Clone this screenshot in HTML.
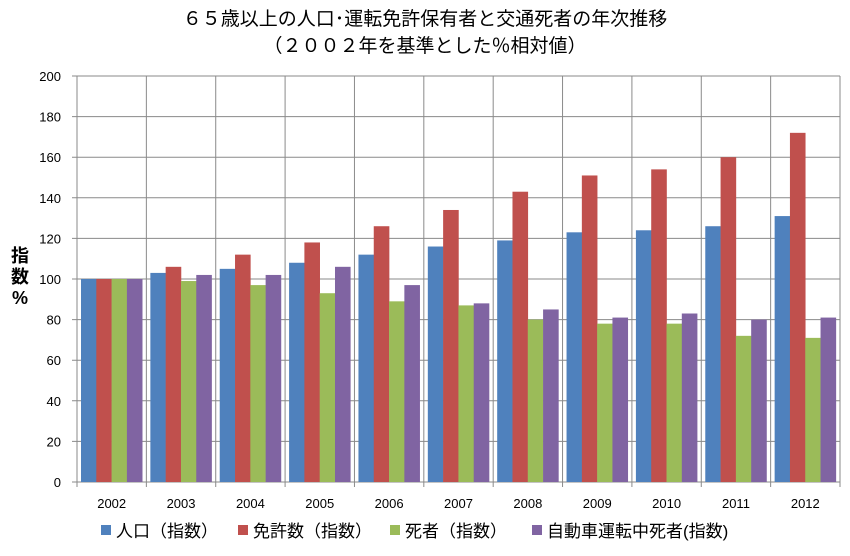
<!DOCTYPE html>
<html><head><meta charset="utf-8"><style>
body{margin:0;background:#fff;}
svg text{font-family:"Liberation Sans","Noto Sans CJK JP",sans-serif;fill:#000;}
</style></head><body>
<svg width="850" height="551" xmlns="http://www.w3.org/2000/svg">
<rect width="850" height="551" fill="#fff"/>
<text x="425" y="25" font-size="19" text-anchor="middle">６５歳以上の人口･運転免許保有者と交通死者の年次推移</text>
<text x="425" y="52" font-size="19" text-anchor="middle">（２００２年を基準とした％相対値）</text>
<g id="grid" stroke="#8a8a8a" stroke-width="1"></g>
<g id="bars"></g>
<g id="labels" font-size="13"></g>
<text x="20" y="262" font-size="18" font-weight="bold" text-anchor="middle">指</text>
<text x="20" y="283" font-size="18" font-weight="bold" text-anchor="middle">数</text>
<text x="20" y="304" font-size="18" font-weight="bold" text-anchor="middle">%</text>
<g font-size="17">
<rect x="101" y="525" width="10" height="10" fill="#4F81BD"/><text x="116" y="537">人口（指数）</text>
<rect x="238" y="525" width="10" height="10" fill="#C0504D"/><text x="253" y="537">免許数（指数）</text>
<rect x="390" y="525" width="10" height="10" fill="#9BBB59"/><text x="405" y="537">死者（指数）</text>
<rect x="532" y="525" width="10" height="10" fill="#8064A2"/><text x="547" y="537">自動車運転中死者(指数)</text>
</g>
</svg>
<script>
const L=77,R=840,T=76,B=482,n=11,cw=(R-L)/n,sc=(B-T)/200;
const d=[[100,100,100,100],[103,106,99,102],[105,112,97,102],[108,118,93,106],[112,126,89,97],[116,134,87,88],[119,143,80,85],[123,151,78,81],[124,154,78,83],[126,160,72,80],[131,172,71,81]];
const c=["#4F81BD","#C0504D","#9BBB59","#8064A2"];
const ns="http://www.w3.org/2000/svg";
function el(p,t,a){const e=document.createElementNS(ns,t);for(const k in a)e.setAttribute(k,a[k]);p.appendChild(e);return e;}
const g=document.getElementById('grid'),b=document.getElementById('bars'),lb=document.getElementById('labels');
for(let v=0;v<=200;v+=20){const y=B-v*sc;el(g,'line',{x1:L-5,x2:R,y1:y,y2:y});const t=el(lb,'text',{x:L-16,y:y+5,'text-anchor':'end'});t.textContent=v;}
for(let i=0;i<=n;i++){const x=L+i*cw;el(g,'line',{x1:x,x2:x,y1:T,y2:B+5});}
const bw=15.3;
d.forEach((r,i)=>{const x0=L+i*cw+4;r.forEach((v,j)=>{el(b,'rect',{x:x0+j*bw,y:B-v*sc,width:bw+0.3,height:v*sc,fill:c[j]});});
const t=el(lb,'text',{x:L+i*cw+cw/2,y:B+26,'text-anchor':'middle'});t.textContent=2002+i;});
</script>
</body></html>
